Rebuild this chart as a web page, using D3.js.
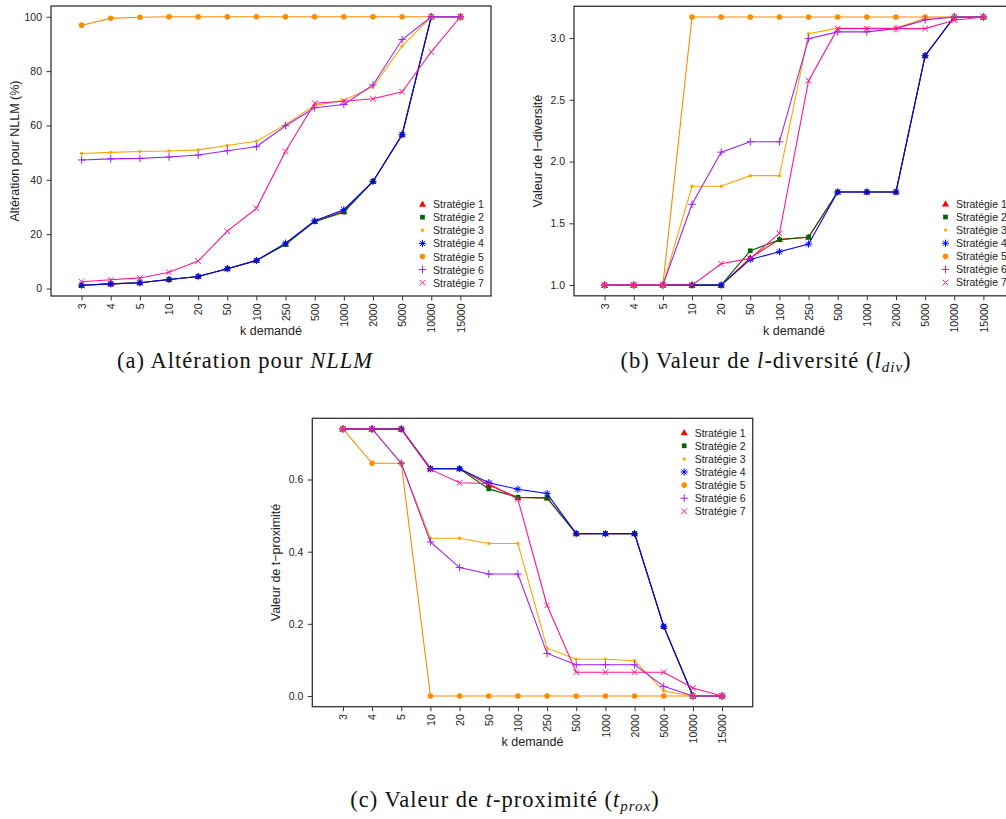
<!DOCTYPE html>
<html><head><meta charset="utf-8">
<script src="https://cdn.jsdelivr.net/npm/d3@7"></script>
<style>html,body{margin:0;padding:0;background:#fff;overflow:hidden}</style>
</head><body><svg id="c" width="1006" height="819"></svg>
<script>
// ---------- data ----------
const categories = ["3","4","5","10","20","50","100","250","500","1000","2000","5000","10000","15000"];
const strategies = ["Stratégie 1","Stratégie 2","Stratégie 3","Stratégie 4","Stratégie 5","Stratégie 6","Stratégie 7"];

// (a) Altération pour NLLM (%)
const nllmS1 = [1.2,1.7,2.1,3.3,4.4,7.3,10.3,16.4,24.7,28.4,39.4,56.6,100,100];
const nllmS2 = [1.2,1.7,2.1,3.3,4.4,7.3,10.3,16.2,24.6,28.1,39.4,56.6,100,100];
const nllmS3 = [49.7,50.1,50.4,50.6,51.0,52.6,54.2,60.4,67.4,69.3,74.2,89.2,100,100];
const nllmS4 = [1.2,1.7,2.1,3.3,4.4,7.3,10.3,16.7,24.9,29.0,39.4,56.6,100,100];
const nllmS5 = [96.9,99.4,99.8,100,100,100,100,100,100,100,100,100,100,100];
const nllmS6 = [47.3,47.7,47.9,48.4,49.1,50.7,52.2,59.9,66.5,67.7,74.9,91.6,100,100];
const nllmS7 = [2.5,3.2,3.9,6.0,10.1,21.1,29.5,50.5,68.2,68.9,69.8,72.4,87.1,100];

// (b) Valeur de l-diversité
const ldivS1 = [1,1,1,1,1,1.22,1.37,1.387,1.754,1.754,1.754,2.857,3.17,3.17];
const ldivS2 = [1,1,1,1,1,1.278,1.367,1.389,1.754,1.754,1.754,2.857,3.17,3.17];
const ldivS3 = [1,1,1,1.80,1.80,1.886,1.886,3.035,3.08,3.08,3.08,3.16,3.17,3.17];
const ldivS4 = [1,1,1,1,1,1.208,1.27,1.332,1.754,1.754,1.754,2.857,3.17,3.17];
const ldivS5 = [1,1,1,3.17,3.17,3.17,3.17,3.17,3.17,3.17,3.17,3.17,3.17,3.17];
const ldivS6 = [1,1,1,1.654,2.076,2.16,2.16,2.995,3.05,3.05,3.076,3.147,3.17,3.17];
const ldivS7 = [1,1,1,1,1.173,1.216,1.419,2.655,3.076,3.076,3.076,3.076,3.144,3.17];

// (c) Valeur de t-proximité
const tproxS1 = [0.74,0.74,0.74,0.63,0.63,0.585,0.55,0.549,0.45,0.45,0.45,0.193,0,0];
const tproxS2 = [0.74,0.74,0.74,0.63,0.63,0.574,0.5505,0.549,0.45,0.45,0.45,0.193,0,0];
const tproxS3 = [0.74,0.74,0.645,0.437,0.437,0.4225,0.4225,0.1326,0.102,0.102,0.0976,0.0138,0,0];
const tproxS4 = [0.74,0.74,0.74,0.63,0.63,0.591,0.573,0.561,0.45,0.45,0.45,0.193,0,0];
const tproxS5 = [0.74,0.645,0.645,0,0,0,0,0,0,0,0,0,0,0];
const tproxS6 = [0.74,0.74,0.645,0.427,0.356,0.338,0.338,0.118,0.0866,0.0866,0.0866,0.0268,0,0];
const tproxS7 = [0.74,0.74,0.74,0.628,0.591,0.589,0.545,0.251,0.066,0.066,0.066,0.066,0.022,0];

const nllmTicks = [0,20,40,60,80,100];
const ldivTicks = [1.0,1.5,2.0,2.5,3.0];
const tproxTicks = [0.0,0.2,0.4,0.6];

// ---------- styles ----------
const colors = ["#FF0000","#006400","#FFA500","#0000FF","#FF8C00","#A020F0","#FF1493"];
const shapes = ["triangle","square","dot","asterisk","circle","plus","cross"];
const FONT = "'Liberation Sans', Arial, Helvetica, sans-serif";
const SERIF = "'Liberation Serif', 'Times New Roman', serif";

const svg = d3.select("#c");

function marker(g, shape, color, cx, cy) {
  const t = `translate(${cx},${cy})`;
  if (shape === "triangle") {
    g.append("path").attr("d", d3.symbol(d3.symbolTriangle, 22)()).attr("transform", `translate(${cx},${cy+0.5})`).attr("fill", color);
  } else if (shape === "square") {
    g.append("path").attr("d", d3.symbol(d3.symbolSquare, 22)()).attr("transform", t).attr("fill", color);
  } else if (shape === "dot") {
    g.append("circle").attr("cx", cx).attr("cy", cy).attr("r", 1.7).attr("fill", color);
  } else if (shape === "circle") {
    g.append("circle").attr("cx", cx).attr("cy", cy).attr("r", 2.8).attr("fill", color);
  } else if (shape === "plus") {
    const s = 3.8;
    g.append("path").attr("d", `M${-s},0H${s}M0,${-s}V${s}`).attr("transform", t).attr("stroke", color).attr("stroke-width", 1).attr("fill", "none");
  } else if (shape === "cross") {
    const s = 2.8;
    g.append("path").attr("d", `M${-s},${-s}L${s},${s}M${-s},${s}L${s},${-s}`).attr("transform", t).attr("stroke", color).attr("stroke-width", 1).attr("fill", "none");
  } else if (shape === "asterisk") {
    const s = 3.6, d = 2.6;
    g.append("path").attr("d", `M${-s},0H${s}M0,${-s}V${s}M${-d},${-d}L${d},${d}M${-d},${d}L${d},${-d}`).attr("transform", t).attr("stroke", color).attr("stroke-width", 1).attr("fill", "none");
  }
}

function panel(cfg) {
  const { x0, y0, w, h, series, ticks, fmt, yTitle, legend } = cfg;
  const g = svg.append("g").attr("transform", `translate(${x0},${y0})`);
  const x = d3.scalePoint().domain(categories).range([0, w]).padding(1.05);
  const all = series.flat();
  const [mn, mx] = d3.extent(all);
  const pad = (mx - mn) * 0.04;
  const y = d3.scaleLinear().domain([mn - pad, mx + pad]).range([h, 0]);

  // x axis
  const xa = g.append("g").attr("transform", `translate(0,${h})`)
    .call(d3.axisBottom(x).tickSize(4.5).tickSizeOuter(0));
  xa.select(".domain").remove();
  xa.selectAll("line").attr("stroke", "#333");
  xa.selectAll("text").attr("transform", "rotate(-90)").attr("text-anchor", "end")
    .attr("x", -7.5).attr("y", 0).attr("dy", "0.35em")
    .attr("font-family", FONT).attr("font-size", 10.5).attr("fill", "#222");

  // y axis
  const ya = g.append("g").call(d3.axisLeft(y).tickValues(ticks).tickFormat(d3.format(fmt)).tickSize(4.5).tickPadding(4.5));
  ya.select(".domain").remove();
  ya.selectAll("line").attr("stroke", "#333");
  ya.selectAll("text").attr("font-family", FONT).attr("font-size", 10.5).attr("fill", "#222");

  // box
  g.append("rect").attr("x", 0).attr("y", 0).attr("width", w).attr("height", h)
    .attr("fill", "none").attr("stroke", "#333").attr("stroke-width", 1.3);

  // series
  const line = d3.line().x((d, i) => x(categories[i])).y(d => y(d));
  series.forEach((vals, si) => {
    g.append("path").datum(vals).attr("d", line).attr("fill", "none")
      .attr("stroke", colors[si]).attr("stroke-width", 1.1);
    vals.forEach((v, i) => marker(g, shapes[si], colors[si], x(categories[i]), y(v)));
  });

  // titles
  g.append("text").attr("transform", `translate(-36,${h / 2}) rotate(-90)`)
    .attr("text-anchor", "middle").attr("dominant-baseline", "central")
    .attr("font-family", FONT).attr("font-size", 12.5).attr("fill", "#222").text(yTitle);
  g.append("text").attr("x", w / 2).attr("y", h + 35)
    .attr("text-anchor", "middle").attr("dominant-baseline", "central")
    .attr("font-family", FONT).attr("font-size", 12.5).attr("fill", "#222").text("k demandé");

  // legend
  const step = 13.1;
  const ly0 = legend === "bottomright" ? h - 13.3 - step * 6 : 14.4;
  const lg = g.append("g");
  strategies.forEach((s, i) => {
    const yy = ly0 + i * step;
    marker(lg, shapes[i], colors[i], w - 68.5, yy);
    lg.append("text").attr("x", w - 58).attr("y", yy).attr("dominant-baseline", "central")
      .attr("font-family", FONT).attr("font-size", 10.5).attr("fill", "#222").text(s);
  });
}

panel({ x0: 51, y0: 6, w: 440, h: 290,
  series: [nllmS1, nllmS2, nllmS3, nllmS4, nllmS5, nllmS6, nllmS7],
  ticks: nllmTicks, fmt: "d", yTitle: "Altération pour NLLM (%)", legend: "bottomright" });
panel({ x0: 574, y0: 6.3, w: 440, h: 289.5,
  series: [ldivS1, ldivS2, ldivS3, ldivS4, ldivS5, ldivS6, ldivS7],
  ticks: ldivTicks, fmt: ".1f", yTitle: "Valeur de l\u2212diversité", legend: "bottomright" });
panel({ x0: 312.3, y0: 418.3, w: 440.4, h: 288.4,
  series: [tproxS1, tproxS2, tproxS3, tproxS4, tproxS5, tproxS6, tproxS7],
  ticks: tproxTicks, fmt: ".1f", yTitle: "Valeur de t\u2212proximité", legend: "topright" });

// captions
function caption(cx, cy, parts) {
  const t = svg.append("text").attr("x", cx).attr("y", cy).attr("text-anchor", "middle")
    .attr("font-family", SERIF).attr("font-size", 22.5).attr("fill", "#111").attr("letter-spacing", 1.0);
  parts.forEach(p => {
    const ts = t.append("tspan").text(p.t);
    if (p.i) ts.attr("font-style", "italic");
    if (p.sub) ts.attr("font-size", 15).attr("dy", 4);
    if (p.up) ts.attr("dy", -4);
  });
}
caption(245, 368, [{ t: "(a) Altération pour " }, { t: "NLLM", i: true }]);
caption(766, 368, [{ t: "(b) Valeur de " }, { t: "l", i: true }, { t: "-diversité (" }, { t: "l", i: true }, { t: "div", i: true, sub: true }, { t: ")", up: true }]);
caption(505, 807, [{ t: "(c) Valeur de " }, { t: "t", i: true }, { t: "-proximité (" }, { t: "t", i: true }, { t: "prox", i: true, sub: true }, { t: ")", up: true }]);
</script></body></html>
